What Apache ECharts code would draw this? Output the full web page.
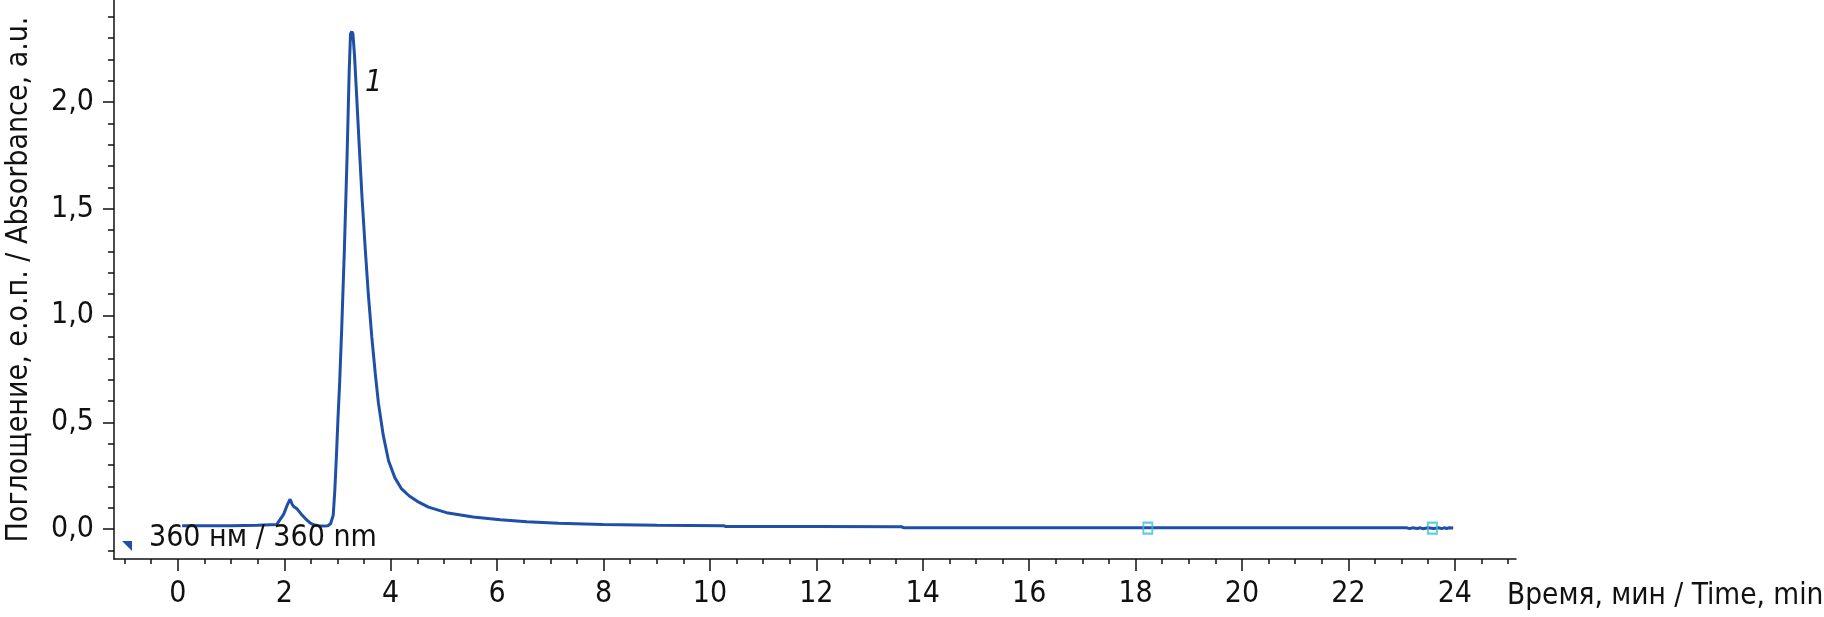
<!DOCTYPE html>
<html><head><meta charset="utf-8">
<script src="https://cdn.jsdelivr.net/npm/echarts@6/dist/echarts.min.js"></script>
<style>html,body{margin:0;padding:0;background:#fff}#c{width:1824px;height:617px}</style>
</head><body><div id="c"></div>
<script>
// ---- data ----
const timeMin = [0.08, 0.5, 1.0, 1.5, 1.86, 1.99, 2.06, 2.11, 2.15, 2.18, 2.24, 2.32, 2.40, 2.48, 2.55, 2.65, 2.74, 2.82, 2.87, 2.92, 2.95, 2.98, 3.01, 3.04, 3.08, 3.13, 3.18, 3.22, 3.245, 3.27, 3.29, 3.32, 3.36, 3.41, 3.46, 3.52, 3.58, 3.645, 3.71, 3.77, 3.86, 3.96, 4.08, 4.20, 4.35, 4.50, 4.71, 5.05, 5.55, 6.06, 6.56, 7.15, 7.99, 9.0, 10.25, 10.3, 12.0, 13.6, 13.65, 16.0, 18.0, 20.6, 20.62, 20.64, 21.8, 21.82, 21.84, 22.0, 22.02, 22.04, 22.7, 22.72, 22.74, 23.1, 23.15, 23.2, 23.3, 23.35, 23.4, 23.5, 23.6, 23.7, 23.75, 23.8, 23.85, 23.9, 23.97];
const absorbance = [0.016, 0.016, 0.016, 0.018, 0.022, 0.07, 0.115, 0.14, 0.115, 0.105, 0.095, 0.07, 0.048, 0.03, 0.02, 0.015, 0.014, 0.016, 0.025, 0.065, 0.18, 0.34, 0.52, 0.68, 0.94, 1.31, 1.74, 2.14, 2.32, 2.33, 2.32, 2.22, 2.03, 1.79, 1.56, 1.32, 1.10, 0.90, 0.73, 0.59, 0.44, 0.32, 0.24, 0.19, 0.155, 0.13, 0.103, 0.077, 0.057, 0.044, 0.034, 0.027, 0.022, 0.018, 0.016, 0.012, 0.012, 0.011, 0.006, 0.006, 0.006, 0.006, 0.002, 0.006, 0.006, 0.002, 0.006, 0.006, 0.002, 0.006, 0.006, 0.003, 0.006, 0.006, 0.002, 0.006, 0.003, 0.006, 0.002, 0.006, 0.003, 0.006, 0.002, 0.006, 0.003, 0.006, 0.005];
const markerTimes = [18.23, 23.58];
const markerValues = [0.005, 0.005];
const xTickValues = [0, 2, 4, 6, 8, 10, 12, 14, 16, 18, 20, 22, 24];
const xMinorTickValues = [-1, -0.5, 0.5, 1, 1.5, 2.5, 3, 3.5, 4.5, 5, 5.5, 6.5, 7, 7.5, 8.5, 9, 9.5, 10.5, 11, 11.5, 12.5, 13, 13.5, 14.5, 15, 15.5, 16.5, 17, 17.5, 18.5, 19, 19.5, 20.5, 21, 21.5, 22.5, 23, 23.5, 24.5, 25];
const yTickValues = [0, 0.5, 1.0, 1.5, 2.0];
const yMinorTickValues = [-0.1, 0.1, 0.2, 0.3, 0.4, 0.6, 0.7, 0.8, 0.9, 1.1, 1.2, 1.3, 1.4, 1.6, 1.7, 1.8, 1.9, 2.1, 2.2, 2.3, 2.4];
const peakLabelText = '1';
const peakLabelTime = 3.68;
const peakLabelValue = 2.09;
const seriesName = '360 нм / 360 nm';
const xAxisName = 'Время, мин / Time, min';
const yAxisName = 'Поглощение, е.о.п. / Absorbance, a.u.';

// ---- chart ----
const FONT = '"Liberation Sans Narrow", "Arial Narrow", "DejaVu Sans Condensed", "Roboto Condensed", sans-serif';
const INK = '#111111';
const LINE = '#1f4fa6';
const axisLineStyle = { color: INK, width: 1.5 };
const X_MIN = -1.2, X_MAX = 25.15, Y_MIN = -0.14, Y_MAX = 2.478;

const chart = echarts.init(document.getElementById('c'), null, { renderer: 'canvas' });
const lineData = timeMin.map((t, i) => [t, absorbance[i]]);
const markerData = markerTimes.map((t, i) => [t, markerValues[i]]);

chart.setOption({
  animation: false,
  textStyle: { fontFamily: FONT },
  grid: { left: 114, right: 308, top: 0, bottom: 58, containLabel: false, outerBoundsMode: 'none' },
  legend: {
    left: 117, top: 518,
    itemWidth: 10, itemHeight: 26, itemGap: 0,
    icon: 'path://M0,-16M0,0L10,0L10,10Z',
    textStyle: { fontFamily: FONT, fontSize: 30, color: INK, padding: [0, 0, 0, 12] },
    data: [seriesName]
  },
  xAxis: [
    {
      type: 'value', min: X_MIN, max: X_MAX, position: 'bottom',
      axisLine: { show: true, onZero: false, lineStyle: axisLineStyle },
      axisTick: { show: true, customValues: xTickValues, length: 12, lineStyle: axisLineStyle },
      axisLabel: { customValues: xTickValues, margin: 20, fontSize: 30, color: INK, fontFamily: FONT },
      splitLine: { show: false },
      name: xAxisName, nameLocation: 'end', nameGap: -9,
      nameTextStyle: { fontFamily: FONT, fontSize: 29.5, color: INK, align: 'left', verticalAlign: 'top', padding: [22, 0, 0, 0] }
    },
    {
      type: 'value', min: X_MIN, max: X_MAX, position: 'bottom',
      axisLine: { show: false, onZero: false },
      axisTick: { show: true, customValues: xMinorTickValues, length: 5, lineStyle: axisLineStyle },
      axisLabel: { show: false },
      splitLine: { show: false }
    }
  ],
  yAxis: [
    {
      type: 'value', min: Y_MIN, max: Y_MAX, position: 'left',
      axisLine: { show: true, onZero: false, lineStyle: axisLineStyle },
      axisTick: { show: true, customValues: yTickValues, length: 11, lineStyle: axisLineStyle },
      axisLabel: {
        customValues: yTickValues, margin: 20, fontSize: 30, color: INK, fontFamily: FONT,
        formatter: v => v.toFixed(1).replace('.', ',')
      },
      splitLine: { show: false },
      name: yAxisName, nameLocation: 'middle', nameGap: 80,
      nameTextStyle: { fontFamily: FONT, fontSize: 30, color: INK }
    },
    {
      type: 'value', min: Y_MIN, max: Y_MAX, position: 'left',
      axisLine: { show: false, onZero: false },
      axisTick: { show: true, customValues: yMinorTickValues, length: 6, lineStyle: axisLineStyle },
      axisLabel: { show: false },
      splitLine: { show: false }
    }
  ],
  series: [
    {
      name: seriesName, type: 'line', xAxisIndex: 0, yAxisIndex: 0,
      data: lineData, showSymbol: false, symbol: 'none',
      color: LINE,
      lineStyle: { color: LINE, width: 3 },
      markPoint: {
        symbol: 'circle', symbolSize: 0,
        data: [{ coord: [peakLabelTime, peakLabelValue], value: peakLabelText }],
        label: { show: true, position: 'inside', formatter: peakLabelText, fontFamily: FONT, fontSize: 30, fontStyle: 'italic', color: INK }
      }
    },
    {
      name: 'markers', type: 'scatter', xAxisIndex: 0, yAxisIndex: 0,
      data: markerData, symbol: 'rect', symbolSize: [9, 11],
      itemStyle: { color: 'rgba(255,255,255,0)', borderColor: '#36c2d2', borderWidth: 2 },
      z: 5
    }
  ]
});
</script>
</body></html>
